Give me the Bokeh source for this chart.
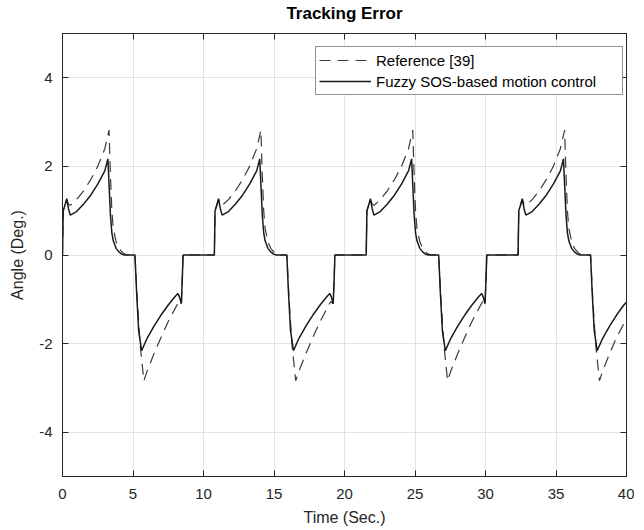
from bokeh.plotting import figure
from bokeh.models import LinearAxis, FixedTicker, Legend, LegendItem, Range1d
from bokeh.embed import file_html
from bokeh.resources import INLINE

# ---- data: (time s, angle deg) ----
fuzzy_points = [
    (0.00, 0.00), (0.05, 1.00), (0.15, 1.10), (0.30, 1.27), (0.42, 1.05), (0.55, 0.90), (1.00, 0.98), (1.50, 1.15),
    (2.00, 1.35), (2.50, 1.60), (3.00, 1.90), (3.22, 2.17), (3.30, 1.60), (3.40, 0.90), (3.50, 0.50), (3.60, 0.32),
    (3.80, 0.15), (4.00, 0.07), (4.20, 0.02), (4.40, 0.00), (5.14, 0.00), (5.25, -0.80), (5.40, -1.70), (5.61, -2.16),
    (6.00, -1.88), (6.50, -1.60), (7.00, -1.35), (7.50, -1.13), (8.00, -0.93), (8.19, -0.87), (8.30, -0.95), (8.43, -1.10),
    (8.50, -0.50), (8.55, 0.00),
    (10.77, 0.00), (10.82, 1.00), (10.92, 1.10), (11.07, 1.27), (11.19, 1.05), (11.32, 0.90), (11.77, 0.98), (12.27, 1.15),
    (12.77, 1.35), (13.27, 1.60), (13.77, 1.90), (13.99, 2.17), (14.07, 1.60), (14.17, 0.90), (14.27, 0.50), (14.37, 0.32),
    (14.57, 0.15), (14.77, 0.07), (14.97, 0.02), (15.17, 0.00), (15.91, 0.00), (16.02, -0.80), (16.17, -1.70), (16.38, -2.16),
    (16.77, -1.88), (17.27, -1.60), (17.77, -1.35), (18.27, -1.13), (18.77, -0.93), (18.96, -0.87), (19.07, -0.95), (19.20, -1.10),
    (19.27, -0.50), (19.32, 0.00),
    (21.54, 0.00), (21.59, 1.00), (21.69, 1.10), (21.84, 1.27), (21.96, 1.05), (22.09, 0.90), (22.54, 0.98), (23.04, 1.15),
    (23.54, 1.35), (24.04, 1.60), (24.54, 1.90), (24.76, 2.17), (24.84, 1.60), (24.94, 0.90), (25.04, 0.50), (25.14, 0.32),
    (25.34, 0.15), (25.54, 0.07), (25.74, 0.02), (25.94, 0.00), (26.68, 0.00), (26.79, -0.80), (26.94, -1.70), (27.15, -2.16),
    (27.54, -1.88), (28.04, -1.60), (28.54, -1.35), (29.04, -1.13), (29.54, -0.93), (29.73, -0.87), (29.84, -0.95), (29.97, -1.10),
    (30.04, -0.50), (30.09, 0.00),
    (32.31, 0.00), (32.36, 1.00), (32.46, 1.10), (32.61, 1.27), (32.73, 1.05), (32.86, 0.90), (33.31, 0.98), (33.81, 1.15),
    (34.31, 1.35), (34.81, 1.60), (35.31, 1.90), (35.53, 2.17), (35.61, 1.60), (35.71, 0.90), (35.81, 0.50), (35.91, 0.32),
    (36.11, 0.15), (36.31, 0.07), (36.51, 0.02), (36.71, 0.00), (37.45, 0.00), (37.56, -0.80), (37.71, -1.70), (37.92, -2.16),
    (38.31, -1.88), (38.81, -1.60), (39.31, -1.35), (39.81, -1.13), (40.00, -1.07),
]

ref_points = [
    (0.00, 0.00), (0.05, 1.00), (0.15, 1.10), (0.30, 1.25), (0.42, 1.15), (0.55, 1.12), (1.00, 1.25), (1.50, 1.45),
    (2.00, 1.70), (2.50, 2.00), (3.00, 2.40), (3.30, 2.82), (3.40, 1.80), (3.50, 1.00), (3.60, 0.60), (3.80, 0.30),
    (4.00, 0.15), (4.30, 0.04), (4.60, 0.00), (5.14, 0.00), (5.30, -1.00), (5.50, -2.00), (5.77, -2.84), (6.00, -2.62),
    (6.50, -2.22), (7.00, -1.85), (7.50, -1.50), (8.00, -1.20), (8.26, -1.05), (8.43, -1.10), (8.50, -0.50), (8.55, 0.00),
    (10.77, 0.00), (10.82, 1.00), (10.92, 1.10), (11.07, 1.25), (11.19, 1.15), (11.32, 1.12), (11.77, 1.25), (12.27, 1.45),
    (12.77, 1.70), (13.27, 2.00), (13.77, 2.40), (14.07, 2.82), (14.17, 1.80), (14.27, 1.00), (14.37, 0.60), (14.57, 0.30),
    (14.77, 0.15), (15.07, 0.04), (15.37, 0.00), (15.91, 0.00), (16.07, -1.00), (16.27, -2.00), (16.54, -2.84), (16.77, -2.62),
    (17.27, -2.22), (17.77, -1.85), (18.27, -1.50), (18.77, -1.20), (19.03, -1.05), (19.20, -1.10), (19.27, -0.50), (19.32, 0.00),
    (21.54, 0.00), (21.59, 1.00), (21.69, 1.10), (21.84, 1.25), (21.96, 1.15), (22.09, 1.12), (22.54, 1.25), (23.04, 1.45),
    (23.54, 1.70), (24.04, 2.00), (24.54, 2.40), (24.84, 2.82), (24.94, 1.80), (25.04, 1.00), (25.14, 0.60), (25.34, 0.30),
    (25.54, 0.15), (25.84, 0.04), (26.14, 0.00), (26.68, 0.00), (26.84, -1.00), (27.04, -2.00), (27.31, -2.84), (27.54, -2.62),
    (28.04, -2.22), (28.54, -1.85), (29.04, -1.50), (29.54, -1.20), (29.80, -1.05), (29.97, -1.10), (30.04, -0.50), (30.09, 0.00),
    (32.31, 0.00), (32.36, 1.00), (32.46, 1.10), (32.61, 1.25), (32.73, 1.15), (32.86, 1.12), (33.31, 1.25), (33.81, 1.45),
    (34.31, 1.70), (34.81, 2.00), (35.31, 2.40), (35.61, 2.82), (35.71, 1.80), (35.81, 1.00), (35.91, 0.60), (36.11, 0.30),
    (36.31, 0.15), (36.61, 0.04), (36.91, 0.00), (37.45, 0.00), (37.61, -1.00), (37.81, -2.00), (38.08, -2.84), (38.31, -2.62),
    (38.81, -2.22), (39.31, -1.85), (39.81, -1.55), (40.00, -1.45),
]

x_ticks = [0, 5, 10, 15, 20, 25, 30, 35, 40]
y_ticks = [-4, -2, 0, 2, 4]
y_tick_labels = {-4: "-4", -2: "-2", 0: "0", 2: "2", 4: "4"}
series_labels = ["Reference [39]", "Fuzzy SOS-based motion control"]
title_text = "Tracking Error"

t_fuzzy = [a for a, b in fuzzy_points]
e_fuzzy = [b for a, b in fuzzy_points]
t_ref = [a for a, b in ref_points]
e_ref = [b for a, b in ref_points]

FONT = "Liberation Sans"
TXT = "#262626"
AX = "#262626"

p = figure(frame_width=564, frame_height=443, output_backend="svg", toolbar_location=None,
           x_range=Range1d(0, 40), y_range=Range1d(-5, 5),
           min_border_left=62, min_border_right=8, min_border_top=33, min_border_bottom=50)

p.title.text = title_text
p.title.align = "center"
p.title.text_font = FONT
p.title.text_font_size = "17px"
p.title.text_font_style = "bold"
p.title.text_color = "#000000"
p.title.standoff = 0

p.outline_line_color = AX
p.outline_line_width = 1

for ax, ticks in ((p.xaxis[0], x_ticks), (p.yaxis[0], y_ticks)):
    ax.ticker = FixedTicker(ticks=ticks)
    ax.major_tick_in = 6
    ax.major_tick_out = 0
    ax.minor_tick_line_color = None
    ax.axis_line_color = AX
    ax.major_tick_line_color = AX
    ax.major_label_text_font = FONT
    ax.major_label_text_font_size = "15px"
    ax.major_label_text_color = TXT
    ax.axis_label_text_font = FONT
    ax.axis_label_text_font_size = "16px"
    ax.axis_label_text_font_style = "normal"
    ax.axis_label_text_color = TXT

p.yaxis.major_label_overrides = y_tick_labels
p.xaxis.axis_label = "Time (Sec.)"
p.yaxis.axis_label = "Angle (Deg.)"
p.xaxis.major_label_standoff = 12
p.xaxis.axis_label_standoff = 7
p.yaxis.major_label_standoff = 10
p.yaxis.axis_label_standoff = 10

# box ticks on the right and top (MATLAB style, inward, no labels)
for loc, ticks in (("right", y_ticks), ("above", x_ticks)):
    ax2 = LinearAxis(ticker=FixedTicker(ticks=ticks), major_tick_in=6, major_tick_out=0,
                     minor_tick_line_color=None, axis_line_color=AX, major_tick_line_color=AX,
                     major_label_text_font_size="1px", major_label_text_color=None,
                     major_label_standoff=0)
    p.add_layout(ax2, loc)

# invisible spacer between the frame and the title
spacer = LinearAxis(ticker=FixedTicker(ticks=x_ticks), major_tick_in=0, major_tick_out=11,
                    minor_tick_line_color=None, axis_line_color=None, major_tick_line_color=None,
                    major_label_text_font_size="1px", major_label_text_color=None,
                    major_label_standoff=0)
p.add_layout(spacer, "above")

p.xgrid.ticker = FixedTicker(ticks=x_ticks)
p.ygrid.ticker = FixedTicker(ticks=y_ticks)
p.grid.grid_line_color = "#e3e3e3"
p.grid.grid_line_width = 1

r_ref = p.line(t_ref, e_ref, line_color="#3a3a3a", line_width=1.2, line_dash="11 7")
r_fuz = p.line(t_fuzzy, e_fuzzy, line_color="#1a1a1a", line_width=1.5)

legend = Legend(items=[LegendItem(label=series_labels[0], renderers=[r_ref]),
                       LegendItem(label=series_labels[1], renderers=[r_fuz])],
                location=(253, 381))
legend.label_text_font = FONT
legend.label_text_font_size = "15px"
legend.label_text_color = "#000000"
legend.border_line_color = "#262626"
legend.border_line_width = 1
legend.background_fill_color = "white"
legend.background_fill_alpha = 1
legend.glyph_width = 52
legend.glyph_height = 20
legend.label_standoff = 5
legend.label_width = 243
legend.label_height = 20
legend.spacing = 1
legend.padding = 3
legend.margin = 0
p.add_layout(legend, "center")

open("out.html", "w").write(file_html(p, INLINE))
